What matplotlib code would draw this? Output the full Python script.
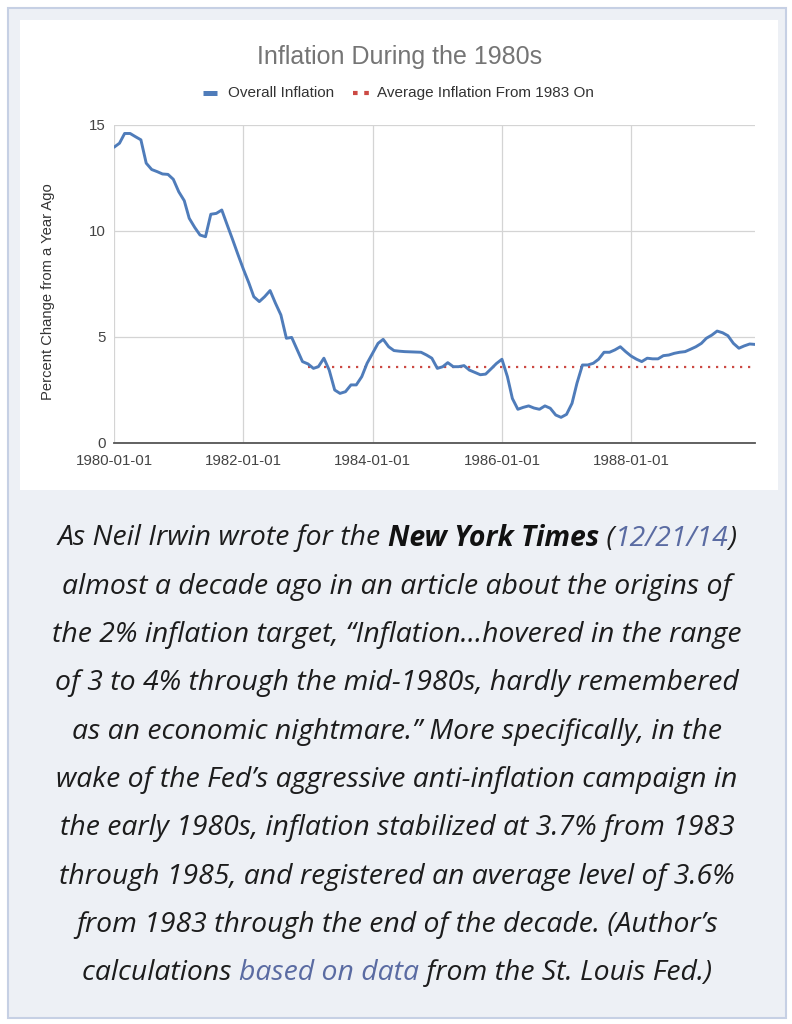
import numpy as np
import pandas as pd
import matplotlib
matplotlib.use("Agg")
import matplotlib.pyplot as plt
from matplotlib.patches import Rectangle
from matplotlib.lines import Line2D
from matplotlib import font_manager as fm

# ---------------- data ----------------
months = pd.date_range("1980-01-01", periods=120, freq="MS")
inflation = [
    13.95, 14.14, 14.60, 14.60, 14.45, 14.30, 13.20, 12.90, 12.80, 12.69, 12.67, 12.44,
    11.85, 11.43, 10.60, 10.17, 9.81, 9.73, 10.79, 10.83, 10.99, 10.30, 9.60, 8.90,
    8.20, 7.55, 6.90, 6.67, 6.90, 7.19, 6.60, 6.04, 4.94, 4.98, 4.40, 3.84,
    3.73, 3.52, 3.60, 4.00, 3.44, 2.50, 2.34, 2.42, 2.74, 2.74, 3.13, 3.76,
    4.23, 4.70, 4.89, 4.54, 4.36, 4.33, 4.31, 4.30, 4.29, 4.28, 4.15, 4.00,
    3.52, 3.60, 3.79, 3.60, 3.60, 3.65, 3.44, 3.33, 3.22, 3.25, 3.50, 3.75,
    3.95, 3.13, 2.10, 1.59, 1.68, 1.75, 1.65, 1.59, 1.75, 1.64, 1.32, 1.21,
    1.35, 1.87, 2.82, 3.68, 3.68, 3.76, 3.95, 4.28, 4.28, 4.39, 4.54, 4.31,
    4.10, 3.95, 3.84, 4.00, 3.97, 3.97, 4.12, 4.15, 4.23, 4.28, 4.31, 4.42,
    4.54, 4.70, 4.94, 5.09, 5.28, 5.20, 5.06, 4.70, 4.47, 4.58, 4.67, 4.65,
]
avg_start = "1983-01-01"
avg_value = 3.6
x_ticks = ["1980-01-01", "1982-01-01", "1984-01-01", "1986-01-01", "1988-01-01"]
y_ticks = [0, 5, 10, 15]

title = "Inflation During the 1980s"
legend_labels = ["Overall Inflation", "Average Inflation From 1983 On"]
y_label = "Percent Change from a Year Ago"

body_lines = [
    [("As Neil Irwin wrote for the ", "n"), ("New York Times", "b"), (" (", "n"), ("12/21/14", "l"), (")", "n")],
    [("almost a decade ago in an article about the origins of", "n")],
    [("the 2% inflation target, \u201cInflation\u2026hovered in the range", "n")],
    [("of 3 to 4% through the mid-1980s, hardly remembered", "n")],
    [("as an economic nightmare.\u201d More specifically, in the", "n")],
    [("wake of the Fed\u2019s aggressive anti-inflation campaign in", "n")],
    [("the early 1980s, inflation stabilized at 3.7% from 1983", "n")],
    [("through 1985, and registered an average level of 3.6%", "n")],
    [("from 1983 through the end of the decade. (Author\u2019s", "n")],
    [("calculations ", "n"), ("based on data", "l"), (" from the St. Louis Fed.)", "n")],
]

# ---------------- figure ----------------
W, H = 792, 1024
fig = plt.figure(figsize=(W / 100, H / 100), dpi=100)
fig.patch.set_facecolor("white")

def fx(px):
    return px / W

def fy(py):
    return 1 - py / H

# outer box
fig.add_artist(Rectangle((fx(8), fy(1018)), fx(786) - fx(8), fy(8) - fy(1018),
                         transform=fig.transFigure, facecolor="#edf0f5",
                         edgecolor="#c6d0e4", lw=1.5, zorder=-2))
# white chart panel
fig.add_artist(Rectangle((fx(20), fy(490)), fx(778) - fx(20), fy(20) - fy(490),
                         transform=fig.transFigure, facecolor="white",
                         edgecolor="none", zorder=-1))

chart_font = "Liberation Sans"

ax = fig.add_axes([fx(114), fy(443), fx(755) - fx(114), fy(125) - fy(443)])
ax.set_zorder(2)
ax.set_facecolor("none")
ax.plot(months, inflation, color="#4f7cba", lw=2.1, solid_joinstyle="round",
        solid_capstyle="round", zorder=3)
avg_x = months[months >= pd.Timestamp(avg_start)]
ax.plot(avg_x, [avg_value] * len(avg_x), color="#cc4a44", lw=1.6,
        linestyle=(0, (1, 2.6)), zorder=2.5)

ax.set_xlim(months[0], months[-1])
ax.set_ylim(0, 15)
ax.set_yticks(y_ticks)
ax.set_yticklabels([str(v) for v in y_ticks])
xt = pd.to_datetime(x_ticks)
ax.set_xticks(xt)
ax.set_xticklabels(x_ticks)
ax.grid(True, color="#d4d4d4", lw=0.9)
ax.set_axisbelow(True)
for s in ["top", "right", "left"]:
    ax.spines[s].set_visible(False)
ax.spines["bottom"].set_color("#555555")
ax.spines["bottom"].set_linewidth(1.3)
ax.spines["bottom"].set_zorder(4)
ax.tick_params(length=0, labelsize=10.8, colors="#444444")
ax.tick_params(axis="y", pad=6)
ax.tick_params(axis="x", pad=8)
for lab in ax.get_xticklabels() + ax.get_yticklabels():
    lab.set_fontfamily(chart_font)

fig.text(fx(400), fy(57), title, fontsize=18, color="#757575",
         family=chart_font, ha="center", va="center")
fig.text(fx(48), fy(292), y_label, fontsize=10.6, color="#333333",
         family=chart_font, rotation=90, ha="center", va="center")

# legend (manual)
fig.add_artist(Line2D([fx(203), fx(217)], [fy(93), fy(93)], transform=fig.transFigure,
                      color="#4f7cba", lw=3.6, solid_capstyle="butt"))
fig.text(fx(228), fy(93), legend_labels[0], fontsize=11, color="#333333",
         family=chart_font, ha="left", va="center")
fig.add_artist(Line2D([fx(353), fx(369)], [fy(93), fy(93)], transform=fig.transFigure,
                      color="#cc4a44", lw=3.0, linestyle=(0, (1.1, 1.6)),
                      dash_capstyle="butt"))
fig.text(fx(377), fy(93), legend_labels[1], fontsize=11, color="#333333",
         family=chart_font, ha="left", va="center")

# ---------------- body text ----------------
def pick_font(style, weight):
    for fam in ["Open Sans", "Noto Sans", "Lato", "Roboto", "DejaVu Sans"]:
        try:
            p = fm.FontProperties(family=fam, style=style, weight=weight)
            f = fm.findfont(p, fallback_to_default=False)
            name = f.lower()
            if "italic" in name or "oblique" in name:
                if weight == "bold" and "bold" not in name:
                    continue
                return f
        except Exception:
            continue
    return None

f_it = pick_font("italic", "normal")
f_bi = pick_font("italic", "bold")

def props(kind, size):
    path = f_bi if kind == "b" else f_it
    if path:
        return fm.FontProperties(fname=path, size=size)
    return fm.FontProperties(family="DejaVu Sans", style="italic",
                             weight="bold" if kind == "b" else "normal", size=size)

colors = {"n": "#1c1c1c", "b": "#111111", "l": "#5a6ba2"}

renderer = fig.canvas.get_renderer()

def seg_width(s, kind, size):
    p = props(kind, size)
    t1 = fig.text(0, 0, "|" + s + "|", fontproperties=p)
    t2 = fig.text(0, 0, "||", fontproperties=p)
    w = t1.get_window_extent(renderer).width - t2.get_window_extent(renderer).width
    t1.remove(); t2.remove()
    return w

# fit size so that line 2 spans ~670 px
target = 670.0
size = 19.0
w0 = seg_width(body_lines[1][0][0], "n", size)
size = size * target / w0

cx = 397
y0 = 535
dy = 48.3
for i, line in enumerate(body_lines):
    widths = [seg_width(s, k, size) for s, k in line]
    total = sum(widths)
    x = cx - total / 2
    yy = y0 + i * dy
    for (s, k), w in zip(line, widths):
        fig.text(fx(x), fy(yy), s, fontproperties=props(k, size), color=colors[k],
                 ha="left", va="center_baseline")
        x += w

fig.savefig("out.png", dpi=100, facecolor=fig.get_facecolor())
